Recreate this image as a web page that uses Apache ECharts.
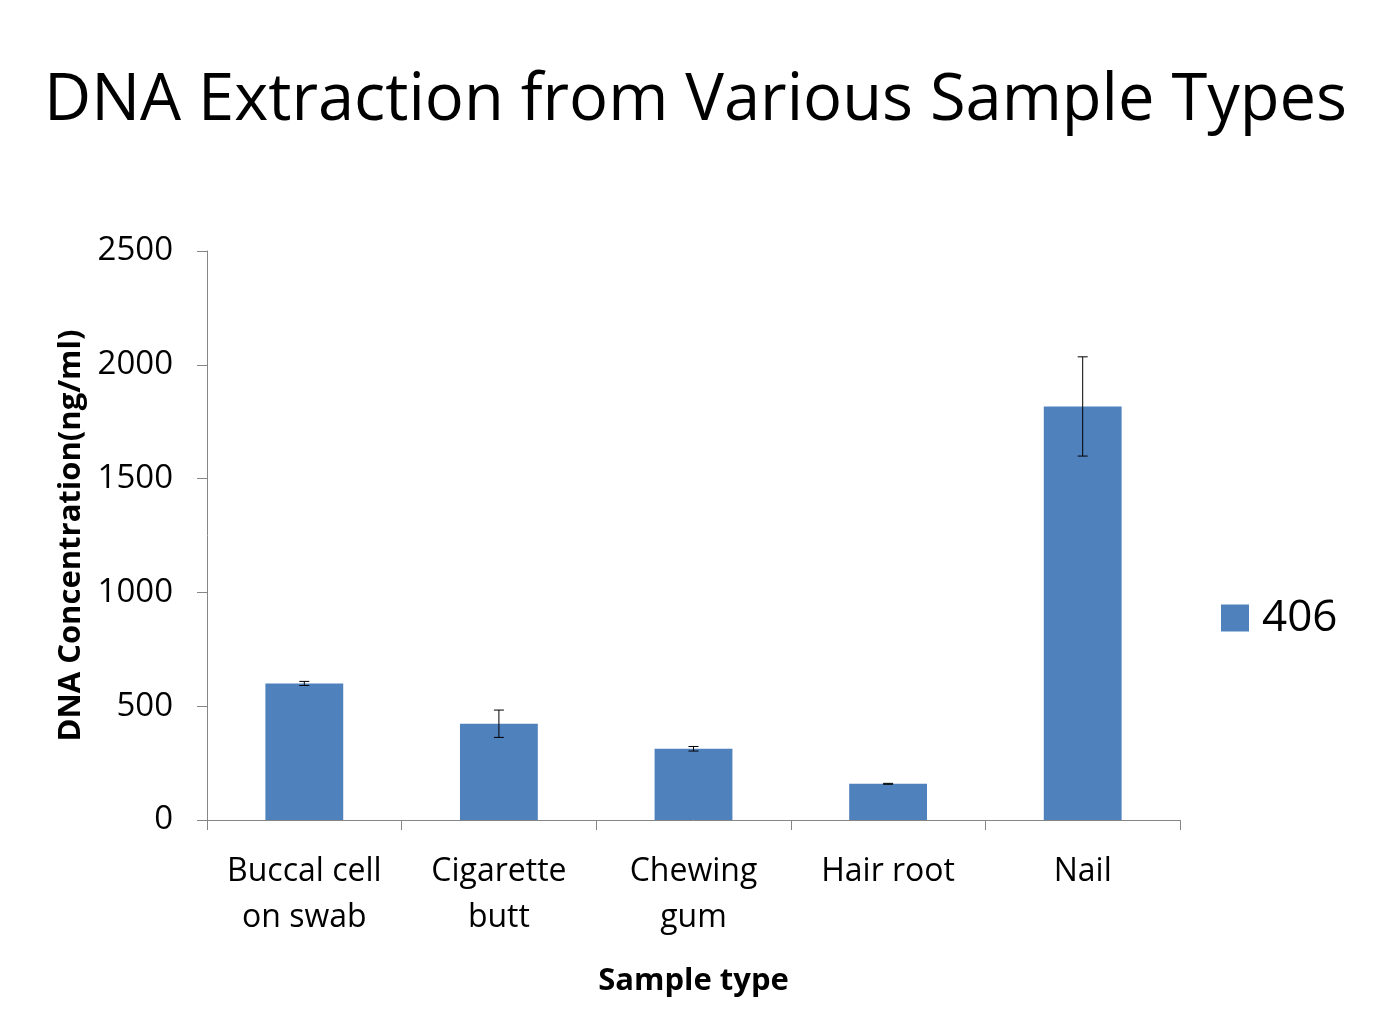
<!DOCTYPE html>
<html><head><meta charset="utf-8">
<script src="https://cdn.jsdelivr.net/npm/echarts@6/dist/echarts.min.js"></script>
<style>html,body{margin:0;padding:0;background:#fff}#c{width:1391px;height:1014px}</style>
</head><body><div id="c"></div>
<script>
const categories = ['Buccal cell\non swab', 'Cigarette\nbutt', 'Chewing\ngum', 'Hair root', 'Nail'];
const values = [600, 423, 313, 159, 1817];
const errors = [9, 60, 10, 2, 218];
const yTicks = [0, 500, 1000, 1500, 2000, 2500];
const seriesName = '406';

const FONT = '"Open Sans", sans-serif';
const chart = echarts.init(document.getElementById('c'), null, {renderer: 'canvas'});
const errData = values.map((v, i) => [i, v - errors[i], v + errors[i]]);

chart.setOption({
  animation: false,
  backgroundColor: '#fff',
  title: {
    text: 'DNA Extraction from Various Sample Types',
    left: 'center', top: 64,
    textStyle: {fontFamily: FONT, fontSize: 65, fontWeight: 'normal', color: '#000'}
  },
  legend: {
    data: [seriesName], left: 1221, top: 596, orient: 'vertical', padding: 0,
    itemWidth: 28, itemHeight: 27, itemGap: 10,
    icon: 'rect',
    textStyle: {fontFamily: FONT, fontSize: 44, color: '#000', padding: [0, 0, 0, 8]}
  },
  grid: {left: 207, right: 211, top: 251, bottom: 194, containLabel: false},
  xAxis: {
    type: 'category', data: categories,
    name: 'Sample type', nameLocation: 'middle', nameGap: 146,
    nameTextStyle: {fontFamily: FONT, fontSize: 31, fontWeight: 'bold', color: '#000'},
    axisLine: {lineStyle: {color: '#868686', width: 1}},
    axisTick: {show: true, length: 10, lineStyle: {color: '#868686'}},
    axisLabel: {fontFamily: FONT, fontSize: 32, color: '#000', margin: 29, lineHeight: 46, interval: 0}
  },
  yAxis: {
    type: 'value', min: 0, max: 2500, interval: 500,
    name: 'DNA Concentration(ng/ml)', nameLocation: 'middle', nameGap: 120,
    nameTextStyle: {fontFamily: FONT, fontSize: 31, fontWeight: 'bold', color: '#000'},
    axisLine: {show: true, lineStyle: {color: '#868686', width: 1}},
    axisTick: {show: true, length: 10, lineStyle: {color: '#868686'}},
    splitLine: {show: false},
    axisLabel: {fontFamily: FONT, fontSize: 33, color: '#000', margin: 34,
      formatter: v => yTicks.includes(v) ? String(v) : ''}
  },
  series: [
    {
      name: seriesName, type: 'bar', data: values, barWidth: '40%',
      itemStyle: {color: '#4F81BD'}
    },
    {
      name: 'err', type: 'custom', data: errData, z: 10,
      renderItem: (params, api) => {
        const x = api.value(0);
        const lo = api.coord([x, api.value(1)]);
        const hi = api.coord([x, api.value(2)]);
        const hw = 5;
        const st = {stroke: '#000', lineWidth: 1};
        return {type: 'group', children: [
          {type: 'line', shape: {x1: lo[0], y1: lo[1], x2: hi[0], y2: hi[1]}, style: st},
          {type: 'line', shape: {x1: lo[0]-hw, y1: lo[1], x2: lo[0]+hw, y2: lo[1]}, style: st},
          {type: 'line', shape: {x1: hi[0]-hw, y1: hi[1], x2: hi[0]+hw, y2: hi[1]}, style: st}
        ]};
      }
    }
  ]
});
</script></body></html>
